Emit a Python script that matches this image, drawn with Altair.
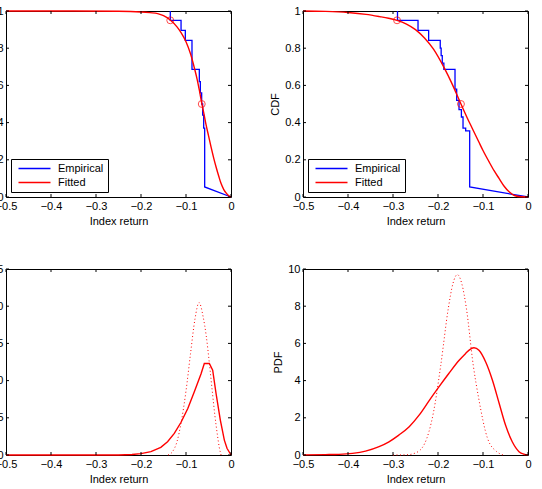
import altair as alt
import pandas as pd

# ---------------- data ----------------
X_TICKS = [-0.5, -0.4, -0.3, -0.2, -0.1, 0.0]
CDF_TICKS = [0.0, 0.2, 0.4, 0.6, 0.8, 1.0]
PDF_TICKS_A = [0, 5, 10, 15, 20, 25]
PDF_TICKS_B = [0, 2, 4, 6, 8, 10]
SERIES = ["Empirical", "Fitted"]

# left column: CDF
A_FIT_X = [-0.5, -0.35, -0.25, -0.2, -0.18, -0.163, -0.15, -0.135, -0.12, -0.111, -0.1,
           -0.09, -0.081, -0.075, -0.07, -0.065, -0.06, -0.0556, -0.05, -0.044, -0.038,
           -0.033, -0.027, -0.022, -0.016, -0.011, -0.005, 0.0]
A_FIT_Y = [1.0, 1.0, 0.999, 0.995, 0.991, 0.986, 0.975, 0.952, 0.915, 0.884, 0.835,
           0.77, 0.69, 0.63, 0.57, 0.505, 0.445, 0.39, 0.33, 0.265, 0.205,
           0.16, 0.11, 0.072, 0.04, 0.022, 0.007, 0.0]
A_EMP_X = [-0.1349, -0.1349, -0.111, -0.111, -0.1015, -0.1015, -0.0867, -0.0867,
           -0.0704, -0.0704, -0.0681, -0.0681, -0.0652, -0.0652, -0.063, -0.063,
           -0.0607, -0.0607, -0.0585, -0.0585, 0.0]
A_EMP_Y = [1.0, 0.95, 0.95, 0.896, 0.896, 0.842, 0.842, 0.686,
           0.686, 0.62, 0.62, 0.56, 0.56, 0.50, 0.50, 0.44,
           0.44, 0.37, 0.37, 0.054, 0.0]
A_MARK_X = [-0.135, -0.065]
A_MARK_Y = [0.95, 0.5]

# left column: PDF
A_PDF_X = [-0.5, -0.3, -0.25, -0.22, -0.2, -0.178, -0.156, -0.141, -0.126, -0.111,
           -0.096, -0.0815, -0.0667, -0.0593, -0.0481, -0.0407, -0.0333, -0.0237,
           -0.0148, -0.0089, 0.0]
A_PDF_Y = [0.0, 0.0, 0.01, 0.06, 0.18, 0.45, 1.03, 1.79, 2.9, 4.4,
           6.25, 8.5, 10.9, 12.3, 12.3, 11.4, 8.3, 4.7,
           2.0, 0.9, 0.0]
A_NORM_X = [-0.14, -0.13, -0.12, -0.111, -0.1, -0.09, -0.08, -0.071, -0.062, -0.055,
            -0.048, -0.042, -0.036, -0.03, -0.026, -0.022]
A_NORM_Y = [0.0, 0.45, 1.8, 4.3, 8.6, 13.6, 18.3, 20.5, 18.6, 16.0,
            12.3, 8.8, 5.4, 2.6, 1.0, 0.0]

# right column: CDF
B_FIT_X = [-0.5, -0.45, -0.4, -0.36, -0.33, -0.31, -0.291, -0.27, -0.25, -0.23, -0.21,
           -0.1853, -0.17, -0.149, -0.135, -0.124, -0.11, -0.1, -0.0867, -0.075, -0.0644,
           -0.053, -0.042, -0.03, -0.015, 0.0]
B_FIT_Y = [1.0, 0.998, 0.992, 0.982, 0.970, 0.961, 0.950, 0.930, 0.90, 0.855, 0.795,
           0.69, 0.615, 0.50, 0.425, 0.37, 0.30, 0.25, 0.19, 0.14, 0.10,
           0.058, 0.028, 0.008, 0.001, 0.0]
B_EMP_X = [-0.290, -0.290, -0.2444, -0.2444, -0.2208, -0.2208, -0.195, -0.195,
           -0.193, -0.193, -0.1905, -0.1905, -0.187, -0.187, -0.1622, -0.1622,
           -0.1585, -0.1585, -0.1533, -0.1533, -0.148, -0.148, -0.1444, -0.1444,
           -0.1385, -0.1385, -0.1296, -0.1296, 0.0]
B_EMP_Y = [1.0, 0.95, 0.95, 0.896, 0.896, 0.842, 0.842, 0.80,
           0.80, 0.76, 0.76, 0.72, 0.72, 0.686, 0.686, 0.58,
           0.58, 0.52, 0.52, 0.47, 0.47, 0.43, 0.43, 0.37,
           0.37, 0.355, 0.355, 0.054, 0.0]
B_MARK_X = [-0.291, -0.149]
B_MARK_Y = [0.95, 0.5]

# right column: PDF
B_PDF_X = [-0.5, -0.45, -0.42, -0.39, -0.361, -0.331, -0.309, -0.287, -0.264, -0.242,
           -0.22, -0.198, -0.176, -0.153, -0.139, -0.127, -0.12, -0.109, -0.094, -0.079,
           -0.064, -0.05, -0.035, -0.02, -0.009, 0.0]
B_PDF_Y = [0.005, 0.02, 0.036, 0.09, 0.21, 0.45, 0.71, 1.07, 1.52, 2.14,
           2.91, 3.66, 4.38, 5.09, 5.45, 5.71, 5.77, 5.63, 5.0, 4.02,
           2.77, 1.61, 0.71, 0.18, 0.04, 0.0]
B_NORM_X = [-0.3, -0.27, -0.25, -0.23, -0.21, -0.194, -0.177, -0.167, -0.157, -0.147,
            -0.137, -0.1215, -0.11, -0.09, -0.07, -0.055]
B_NORM_Y = [0.0, 0.01, 0.11, 0.6, 2.3, 4.8, 7.9, 9.2, 9.7, 9.2,
            7.9, 4.8, 3.1, 0.9, 0.19, 0.0]

# ---------------- styling ----------------
W, H = 225, 186
TICK = 3
FONT = "Liberation Sans"
BLUE = "#0000ff"
RED = "#ff0000"
# a wide horizontal stroke used as the legend swatch
LEGEND_LINE = "M-4,0H4"


def x_enc():
    return alt.X("x:Q", title="Index return",
                 scale=alt.Scale(domain=[-0.5, 0.0], nice=False, zero=False),
                 axis=alt.Axis(values=X_TICKS, format=".1~f"))


def y_enc(dom, ticks, title, fmt):
    return alt.Y("y:Q", title=title,
                 scale=alt.Scale(domain=dom, nice=False, zero=False),
                 axis=alt.Axis(values=ticks, format=fmt))


def box_ticks(yenc, yticks):
    """Inward tick marks on all four sides of the plot box."""
    ydf = pd.DataFrame({"y": yticks})
    xdf = pd.DataFrame({"x": X_TICKS})
    ry = alt.Chart(ydf).mark_rule(color="black", strokeWidth=1)
    rx = alt.Chart(xdf).mark_rule(color="black", strokeWidth=1)
    return [
        ry.encode(y=yenc, x=alt.value(0), x2=alt.value(TICK)),
        ry.encode(y=yenc, x=alt.value(W - TICK), x2=alt.value(W)),
        rx.encode(x=x_enc(), y=alt.value(H), y2=alt.value(H - TICK)),
        rx.encode(x=x_enc(), y=alt.value(0), y2=alt.value(TICK)),
    ]


def cdf_panel(fx, fy, ex, ey, mx, my):
    yenc = y_enc([0, 1], CDF_TICKS, "CDF", ".1~f")
    color = alt.Color(
        "series:N",
        scale=alt.Scale(domain=SERIES, range=[BLUE, RED]),
        legend=alt.Legend(title=None, orient="bottom-left", offset=5,
                          fillColor="white", strokeColor="black",
                          padding=4, rowPadding=2, symbolType=LEGEND_LINE,
                          symbolSize=64, symbolStrokeWidth=1.4, symbolOffset=14,
                          labelFontSize=11, labelFont=FONT, labelColor="black",
                          labelOffset=18, cornerRadius=0),
    )
    emp = pd.DataFrame({"x": ex, "y": ey, "series": "Empirical",
                        "i": list(range(len(ex)))})
    fit = pd.DataFrame({"x": fx, "y": fy, "series": "Fitted",
                        "i": list(range(len(fx)))})
    pts = pd.DataFrame({"x": mx, "y": my})
    emp_line = alt.Chart(emp).mark_line(strokeWidth=1.3).encode(
        x=x_enc(), y=yenc, color=color, order="i:Q")
    fit_line = alt.Chart(fit).mark_line(strokeWidth=1.4, interpolate="monotone").encode(
        x=x_enc(), y=yenc, color=color, order="i:Q")
    marks = alt.Chart(pts).mark_point(shape="circle", filled=False, color=RED,
                                      size=48, strokeWidth=1).encode(x=x_enc(), y=yenc)
    return alt.layer(emp_line, fit_line, marks, *box_ticks(yenc, CDF_TICKS)).properties(
        width=W, height=H)


def pdf_panel(px, py, nx, ny, dom, ticks, smooth):
    yenc = y_enc(dom, ticks, "PDF", "d")
    solid = pd.DataFrame({"x": px, "y": py})
    dotted = pd.DataFrame({"x": nx, "y": ny})
    l1 = alt.Chart(dotted).mark_line(color=RED, strokeWidth=1, strokeDash=[1, 2.5],
                                     interpolate="monotone").encode(x=x_enc(), y=yenc)
    l2 = alt.Chart(solid).mark_line(color=RED, strokeWidth=1.4,
                                    interpolate="monotone" if smooth else "linear").encode(
        x=x_enc(), y=yenc)
    return alt.layer(l1, l2, *box_ticks(yenc, ticks)).properties(width=W, height=H)


top_left = cdf_panel(A_FIT_X, A_FIT_Y, A_EMP_X, A_EMP_Y, A_MARK_X, A_MARK_Y)
top_right = cdf_panel(B_FIT_X, B_FIT_Y, B_EMP_X, B_EMP_Y, B_MARK_X, B_MARK_Y)
bot_left = pdf_panel(A_PDF_X, A_PDF_Y, A_NORM_X, A_NORM_Y, [0, 25], PDF_TICKS_A, False)
bot_right = pdf_panel(B_PDF_X, B_PDF_Y, B_NORM_X, B_NORM_Y, [0, 10], PDF_TICKS_B, True)

chart = alt.concat(
    top_left, top_right, bot_left, bot_right,
    columns=2, spacing=72, bounds="flush",
).resolve_scale(color="independent").resolve_legend(color="independent").properties(
    padding={"left": -28, "top": 4, "right": 5, "bottom": 5},
    background="white",
).configure_view(
    stroke="black", strokeWidth=1,
).configure_axis(
    ticks=False, domain=False, grid=False, labelFlush=False, labelOverlap=False,
    labelPadding=3, titlePadding=4,
    labelFont=FONT, titleFont=FONT, labelFontSize=11, titleFontSize=11,
    titleFontWeight="normal", labelColor="black", titleColor="black",
)

chart.save("out.html", embed_options={"renderer": "svg", "actions": False})
